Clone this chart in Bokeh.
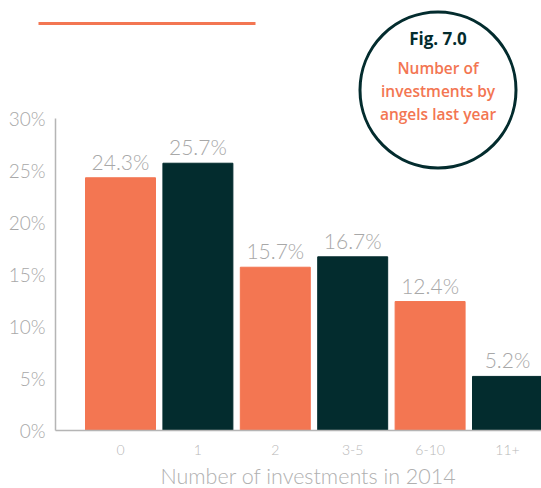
from bokeh.plotting import figure
from bokeh.models import Range1d, FixedTicker, ColumnDataSource, LabelSet, Label, BoxAnnotation
from bokeh.embed import file_html
from bokeh.resources import INLINE
from bokeh.core.properties import value

# ---- data ----
categories = ["0", "1", "2", "3-5", "6-10", "11+"]
shares = [24.3, 25.7, 15.7, 16.7, 12.4, 5.2]
share_labels = ["24.3%", "25.7%", "15.7%", "16.7%", "12.4%", "5.2%"]
y_ticks = [0, 5, 10, 15, 20, 25, 30]
y_tick_labels = ["0%", "5%", "10%", "15%", "20%", "25%", "30%"]
x_title = "Number of investments in 2014"
fig_title = "Fig. 7.0"
fig_subtitle = ["Number of", "investments by", "angels last year"]

# ---- style ----
ORANGE = "#f37652"
DARK = "#032c2e"
GREY = "#a8a8a8"
LIGHT_FONT = "Lato Light"
BOX_FONT = "Open Sans"
BOX_FONT_SEMI = "Open Sans SemiBold"

W, H = 541, 488
AXIS_PX = 55            # page x of the y axis line
ZERO_PX = 430           # page y of the x axis line
PX_PER_UNIT_Y = 10.4
PX_PER_UNIT_X = 77.4
FIRST_BAR_PX = 120
X_START = -FIRST_BAR_PX / PX_PER_UNIT_X
x_end = X_START + W / PX_PER_UNIT_X
y_start = -(H - ZERO_PX) / PX_PER_UNIT_Y
y_end = ZERO_PX / PX_PER_UNIT_Y


def px_x(px):
    return X_START + px / PX_PER_UNIT_X


def px_y(py):
    return (ZERO_PX - py) / PX_PER_UNIT_Y


colors = [ORANGE if i % 2 == 0 else DARK for i in range(len(categories))]
xs = list(range(len(categories)))
src = ColumnDataSource(dict(x=xs, share=shares, label=share_labels, color=colors))

p = figure(width=W, height=H, x_range=Range1d(X_START, x_end), y_range=Range1d(y_start, y_end),
           output_backend="svg", toolbar_location=None,
           min_border_left=0, min_border_right=0, min_border_top=0, min_border_bottom=0)
p.outline_line_color = None
p.grid.grid_line_color = None
p.background_fill_color = "white"

p.vbar(x="x", top="share", width=0.904, color="color", source=src)

p.add_layout(LabelSet(x="x", y="share", text="label", source=src, text_align="center",
                      text_baseline="bottom", y_offset=4, text_font=value(LIGHT_FONT),
                      text_font_size="21px", text_color=GREY))

# axes
p.yaxis.fixed_location = px_x(AXIS_PX)
p.yaxis.ticker = FixedTicker(ticks=y_ticks)
p.yaxis.major_label_overrides = {t: l for t, l in zip(y_ticks, y_tick_labels)}
p.yaxis.bounds = (0, 30)
p.yaxis.major_tick_line_color = None
p.yaxis.minor_tick_line_color = None
p.yaxis.major_tick_out = 0
p.yaxis.major_tick_in = 0
p.yaxis.axis_line_color = "#b5b5b5"
p.yaxis.axis_line_width = 1.5
p.yaxis.major_label_standoff = 10
p.yaxis.major_label_text_font = LIGHT_FONT
p.yaxis.major_label_text_font_size = "19px"
p.yaxis.major_label_text_color = GREY

p.xaxis.fixed_location = 0
p.xaxis.ticker = FixedTicker(ticks=xs)
p.xaxis.bounds = (px_x(AXIS_PX), x_end)
p.xaxis.major_label_overrides = {i: c for i, c in zip(xs, categories)}
p.xaxis.major_tick_line_color = None
p.xaxis.minor_tick_line_color = None
p.xaxis.major_tick_out = 0
p.xaxis.major_tick_in = 0
p.xaxis.axis_line_color = "#b5b5b5"
p.xaxis.axis_line_width = 1.5
p.xaxis.major_label_standoff = 14
p.xaxis.major_label_text_font = LIGHT_FONT
p.xaxis.major_label_text_font_size = "14px"
p.xaxis.major_label_text_color = "#b8b8b8"

# axis title
p.add_layout(Label(x=px_x(308), y=px_y(475), text=x_title, text_align="center",
                   text_baseline="middle", text_font=LIGHT_FONT, text_font_size="21.5px",
                   text_color="#b0b0b0"))

# decorations
cx, cy = px_x(437.5), px_y(89.5)
p.scatter(x=[cx], y=[cy], marker="circle", size=156, fill_color=None,
          line_color=DARK, line_width=3)
p.add_layout(Label(x=cx, y=px_y(38), text=fig_title, text_align="center", text_baseline="middle",
                   text_font=BOX_FONT, text_font_style="bold", text_font_size="17px",
                   text_color=DARK))
for i, line in enumerate(fig_subtitle):
    p.add_layout(Label(x=cx, y=px_y(67 + 23 * i), text=line, text_align="center",
                       text_baseline="middle", text_font=BOX_FONT_SEMI,
                       text_font_size="15.5px", text_color=ORANGE))

p.add_layout(BoxAnnotation(left=38, right=255, top=21.5, bottom=24.5,
                           left_units="canvas", right_units="canvas",
                           top_units="canvas", bottom_units="canvas",
                           fill_color=ORANGE, fill_alpha=1, line_color=None))

open("out.html", "w").write(file_html(p, INLINE))
